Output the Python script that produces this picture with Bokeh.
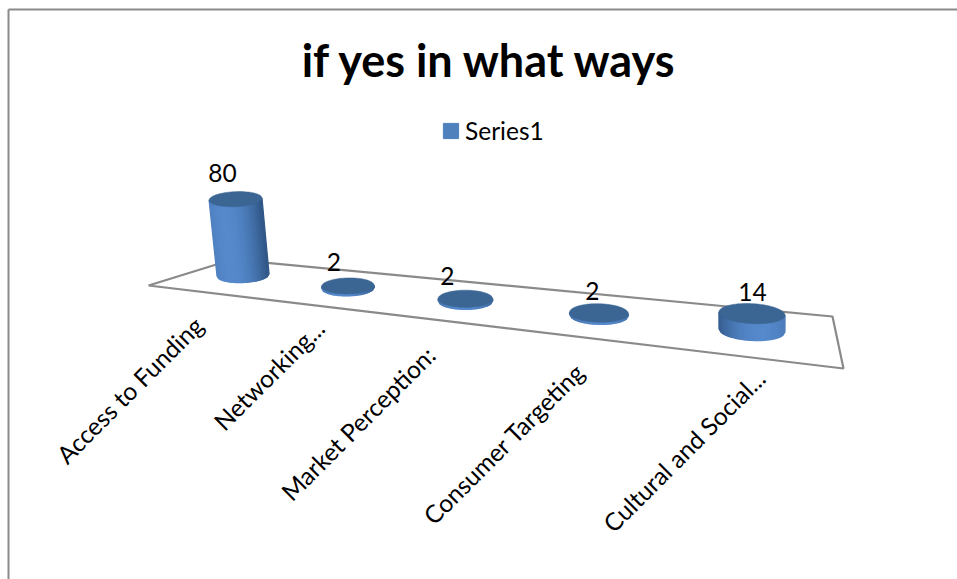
import numpy as np
from bokeh.plotting import figure
from bokeh.models import Legend, LegendItem
from bokeh.core.properties import value
from bokeh.embed import file_html
from bokeh.resources import INLINE

# --- data ---
categories = ["Access to Funding", "Networking...", "Market Perception:", "Consumer Targeting", "Cultural and Social..."]
series1 = [80, 2, 2, 2, 14]
series_name = "Series1"
title_text = "if yes in what ways"

# --- layout of the 3D floor (page pixels, y downwards) ---
FLOOR = np.array([[148, 285], [843, 368], [832, 316], [232, 259]], float)  # FL FR BR BL
W, H = 957, 579
FONT = "Lato"
GREY = "#8a8a8a"
TOP = "#3b6593"
LIGHT = np.array([0x55, 0x89, 0xcc], float)
DARK = np.array([0x24, 0x46, 0x6e], float)
U_SHIFT = 0.012
NUDGE = [(-2, -2), (1, 0), (1.5, 0.5), (-0.5, 0.5), (-6.5, -1)]
LABEL_OFF = [(-13, -19), (-14, -16), (-18, -14), (-6.5, -13), (0.5, -12)]
CAT_OFF = [(-4, 29), (10, 19), (-4, 31), (-1, 30), (5, 16)]


def homography(q):
    A, b = [], []
    for (u, v), (x, y) in zip([(0, 0), (1, 0), (1, 1), (0, 1)], q):
        A.append([u, v, 1, 0, 0, 0, -u * x, -v * x]); b.append(x)
        A.append([0, 0, 0, u, v, 1, -u * y, -v * y]); b.append(y)
    return np.append(np.linalg.solve(np.array(A), np.array(b)), 1).reshape(3, 3)


M = homography(FLOOR)


def floor(u, v):
    px = M @ np.array([u, v, 1.0])
    return px[0] / px[2], px[1] / px[2]


def hexc(c):
    return "#%02x%02x%02x" % tuple(int(round(a)) for a in c)


p = figure(width=W, height=H, x_range=(0, W), y_range=(H, 0),
           output_backend="svg", toolbar_location=None, min_border=0,
           outline_line_color=None, background_fill_color="white", border_fill_color="white")
p.axis.visible = False
p.grid.visible = False

# chart frame
p.line([8, 8], [H, 9], line_color=GREY, line_width=2)
p.line([8, W], [9, 9], line_color=GREY, line_width=2)

# floor
fx, fy = zip(*FLOOR.tolist())
p.line(list(fx) + [fx[0]], list(fy) + [fy[0]], line_color=GREY, line_width=2.2)

n = len(categories)
TS = np.linspace(0, 1, 29)  # 0 = left edge of a cylinder, 1 = right edge
for i, (cat, val) in enumerate(zip(categories, series1)):
    cx, cy = floor((i + 0.5) / n + U_SHIFT, 0.5)
    cx, cy = cx + NUDGE[i][0], cy + NUDGE[i][1]
    f = (cx - 243) / 510
    rx = 26 + 7 * f ** 2
    ry = 7.5 + 2.5 * f
    tilt = -0.04 + 0.09 * f
    h = val * 0.0365 * rx
    tx, ty = cx + h * (cx - 750) * 0.000195, cy - h
    trx = rx * (1 + val * 0.0002)

    def lower(ox, oy, r, t):
        x = ox + r * (2 * t - 1)
        return x, oy + ry * np.sqrt(np.clip(1 - (2 * t - 1) ** 2, 0, 1)) + (x - ox) * tilt

    xs, ys, cols = [], [], []
    peak = 0.3 + 0.35 * f
    for a, b in zip(TS[:-1], TS[1:]):
        xa, ya = lower(cx, cy, rx, np.array([a, b]))
        xb, yb = lower(tx, ty, trx, np.array([b, a]))
        xs.append(list(xa) + list(xb))
        ys.append(list(ya) + list(yb))
        d = min(1, (abs((a + b) / 2 - peak) * 1.25) ** 2)
        cols.append(hexc(LIGHT * (1 - d) + DARK * d))
    p.patches(xs, ys, fill_color=cols, line_color=cols, line_width=1.3)

    th = np.linspace(0, 2 * np.pi, 73)
    ex = tx + trx * np.cos(th)
    ey = ty + ry * np.sin(th) + (ex - tx) * tilt
    p.patch(ex, ey, fill_color=TOP, line_color=TOP, line_width=0.5)

    lx, ly = tx + LABEL_OFF[i][0], ty - ry + LABEL_OFF[i][1]
    p.text([lx], [ly], text=[str(val)], text_font=value(FONT), text_font_size="24.5px",
           text_align="center", text_baseline="middle", text_color="#000000")

    ax, ay = floor((i + 0.5) / n + U_SHIFT, 0)
    p.text([ax + CAT_OFF[i][0]], [ay + CAT_OFF[i][1]], text=[cat], text_font=value(FONT), text_font_size="24.5px",
           angle=45, angle_units="deg", text_align="right", text_baseline="middle", text_color="#000000")

# title
p.text([489.5], [59], text=[title_text], text_font=value(FONT), text_font_size="45px", text_font_style="bold",
       text_align="center", text_baseline="middle", text_color="#000000")

# legend (its swatch is drawn from a renderer that lies outside the visible range)
sw = p.quad(left=[-50], right=[-40], top=[-50], bottom=[-40], fill_color="#4f81bd", line_color="#4f81bd")
leg = Legend(items=[LegendItem(label=series_name, renderers=[sw])], location=(441, H - 145),
             orientation="horizontal", background_fill_alpha=0, border_line_color=None,
             label_text_font=FONT, label_text_font_size="24.5px", label_text_color="#000000",
             glyph_width=19, glyph_height=19, padding=4, margin=0, label_standoff=5)
p.add_layout(leg)

open("out.html", "w").write(file_html(p, INLINE))
